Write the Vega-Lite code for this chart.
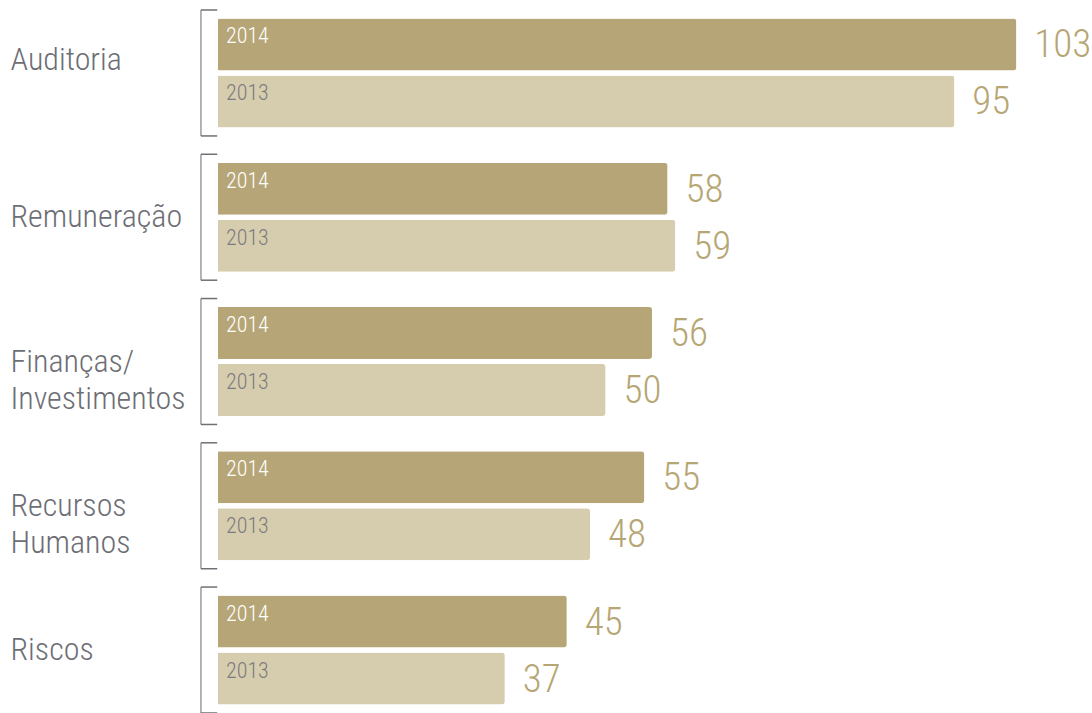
{
  "$schema": "https://vega.github.io/schema/vega-lite/v6.json",
  "width": 903,
  "height": 703,
  "autosize": {"type": "none"},
  "padding": {"left": 187, "top": 10, "right": 2, "bottom": 0},
  "background": "white",
  "config": {
    "view": {"stroke": null},
    "font": "Roboto Condensed, Liberation Sans Narrow, DejaVu Sans Condensed, sans-serif"
  },
  "datasets": {
    "bars": [
      {"area": "Auditoria", "ano": "2014", "valor": 103},
      {"area": "Auditoria", "ano": "2013", "valor": 95},
      {"area": "Remuneração", "ano": "2014", "valor": 58},
      {"area": "Remuneração", "ano": "2013", "valor": 59},
      {"area": "Finanças/ Investimentos", "ano": "2014", "valor": 56},
      {"area": "Finanças/ Investimentos", "ano": "2013", "valor": 50},
      {"area": "Recursos Humanos", "ano": "2014", "valor": 55},
      {"area": "Recursos Humanos", "ano": "2013", "valor": 48},
      {"area": "Riscos", "ano": "2014", "valor": 45},
      {"area": "Riscos", "ano": "2013", "valor": 37}
    ],
    "grupos": [
      {"area": "Auditoria", "inicio": -2.2, "fim": -0.1},
      {"area": "Remuneração", "inicio": -2.2, "fim": -0.1},
      {"area": "Finanças/ Investimentos", "inicio": -2.2, "fim": -0.1},
      {"area": "Recursos Humanos", "inicio": -2.2, "fim": -0.1},
      {"area": "Riscos", "inicio": -2.2, "fim": -0.1}
    ]
  },
  "encoding": {
    "y": {
      "field": "area",
      "type": "nominal",
      "sort": null,
      "scale": {
        "domain": ["Auditoria", "Remuneração", "Finanças/ Investimentos", "Recursos Humanos", "Riscos"],
        "paddingInner": 0.127,
        "paddingOuter": 0
      },
      "axis": {
        "title": null,
        "domain": false,
        "ticks": false,
        "tickSize": 0,
        "labelAlign": "left",
        "labelBaseline": "middle",
        "labelPadding": 177,
        "labelFontSize": 32,
        "labelFontWeight": 300,
        "labelLineHeight": 37,
        "labelColor": "#6d6e74",
        "labelLimit": 0,
        "labelExpr": "split(datum.value, ' ')",
        "labelOffset": {"condition": {"test": "datum.value === 'Auditoria'", "value": -13}, "value": 0}
      }
    }
  },
  "layer": [
    {
      "data": {"name": "grupos"},
      "mark": {"type": "tick", "orient": "vertical", "size": 126, "thickness": 1.5, "color": "#6f7077"},
      "encoding": {
        "x": {"field": "inicio", "type": "quantitative", "scale": {"domain": [-4, 112.5], "nice": false, "zero": false}, "axis": null}
      }
    },
    {
      "data": {"name": "grupos"},
      "mark": {"type": "rule", "strokeWidth": 1.5, "color": "#6f7077"},
      "encoding": {
        "x": {"field": "inicio", "type": "quantitative"},
        "x2": {"field": "fim"},
        "y": {"field": "area", "type": "nominal", "sort": null, "bandPosition": 0}
      }
    },
    {
      "data": {"name": "grupos"},
      "mark": {"type": "rule", "strokeWidth": 1.5, "color": "#6f7077"},
      "encoding": {
        "x": {"field": "inicio", "type": "quantitative"},
        "x2": {"field": "fim"},
        "y": {"field": "area", "type": "nominal", "sort": null, "bandPosition": 1}
      }
    },
    {
      "data": {"name": "bars"},
      "mark": {"type": "bar", "cornerRadiusTopRight": 3, "cornerRadiusBottomRight": 3},
      "encoding": {
        "x": {"field": "valor", "type": "quantitative"},
        "yOffset": {"field": "ano", "type": "nominal", "scale": {"domain": ["2014", "2013"], "paddingInner": 0.0877, "paddingOuter": 0.148}},
        "color": {"field": "ano", "type": "nominal", "scale": {"domain": ["2014", "2013"], "range": ["#b6a677", "#d5cdae"]}, "legend": null}
      }
    },
    {
      "data": {"name": "bars"},
      "mark": {"type": "text", "align": "left", "baseline": "alphabetic", "dx": 8, "dy": -1, "fontSize": 22, "fontWeight": 300},
      "encoding": {
        "x": {"datum": 0, "type": "quantitative"},
        "yOffset": {"field": "ano", "type": "nominal"},
        "text": {"field": "ano"},
        "color": {"condition": {"test": "datum.ano === '2014'", "value": "#ffffff"}, "value": "#7d7b7f"}
      }
    },
    {
      "data": {"name": "bars"},
      "mark": {"type": "text", "align": "left", "baseline": "middle", "dx": 18, "dy": 1, "fontSize": 39, "fontWeight": 300, "color": "#b6a674"},
      "encoding": {
        "x": {"field": "valor", "type": "quantitative"},
        "yOffset": {"field": "ano", "type": "nominal"},
        "text": {"field": "valor"}
      }
    }
  ]
}
